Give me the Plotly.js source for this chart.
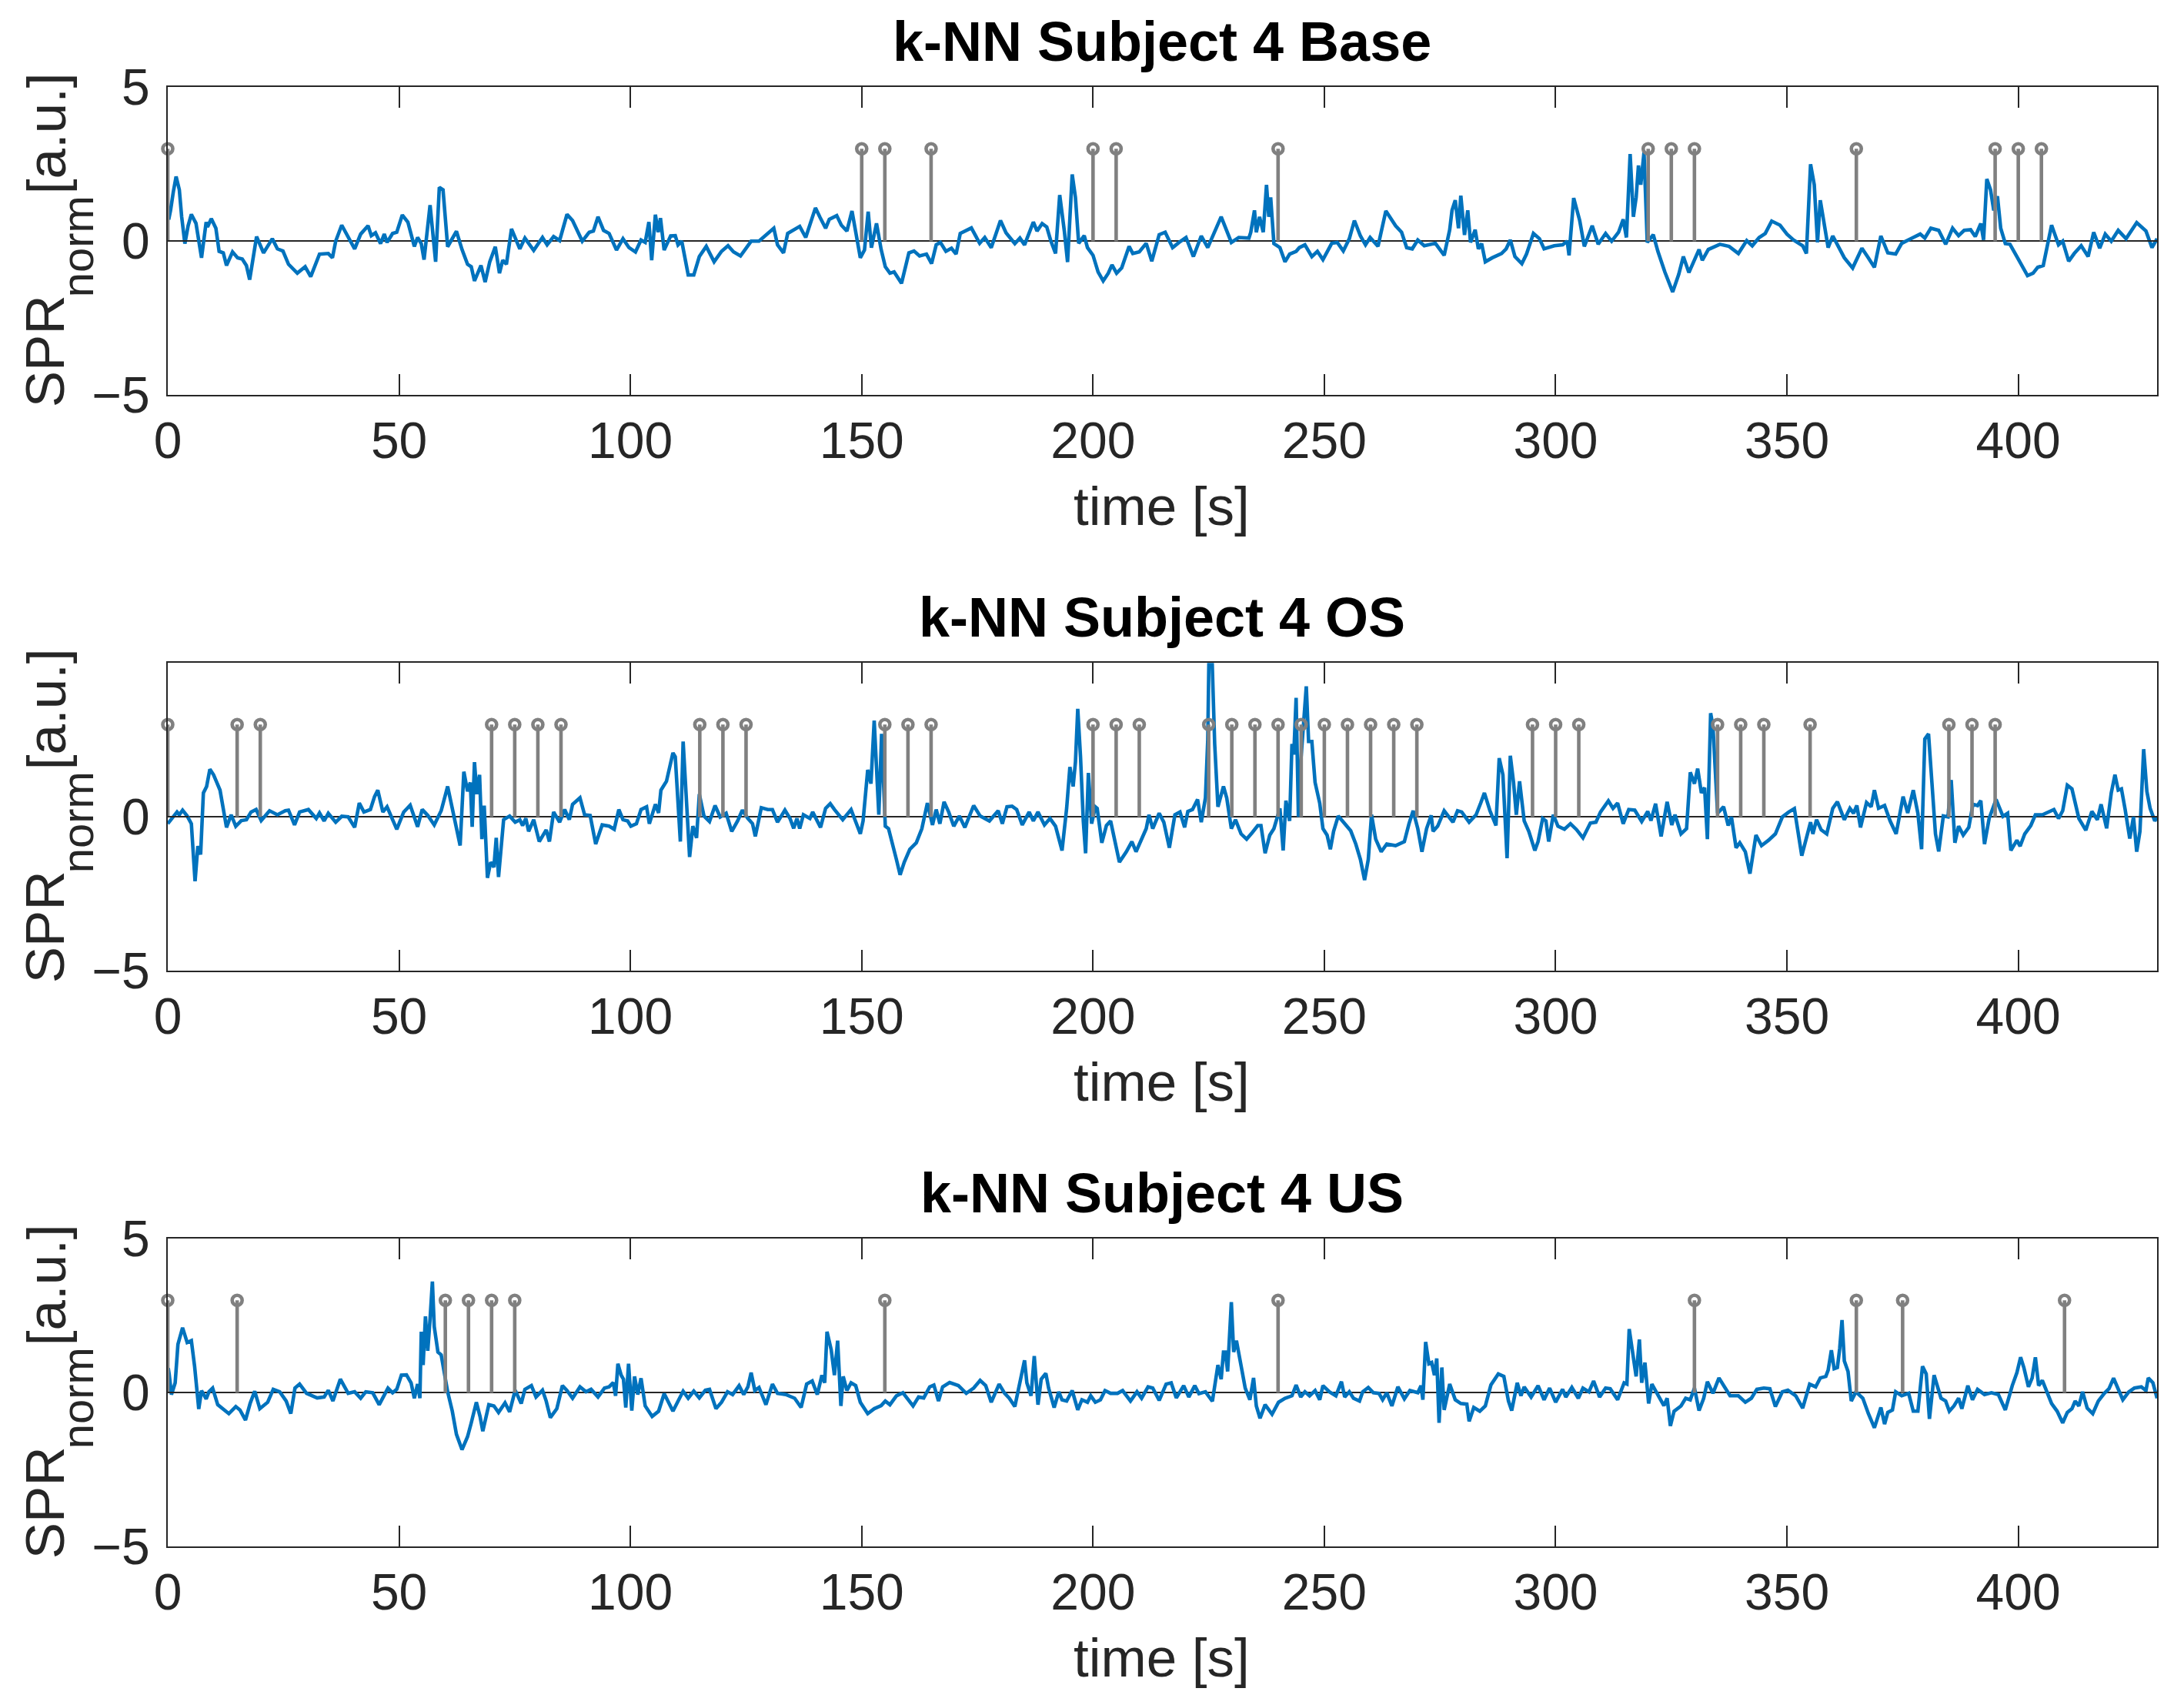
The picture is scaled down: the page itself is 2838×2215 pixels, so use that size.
<!DOCTYPE html>
<html>
<head>
<meta charset="utf-8">
<script src="https://cdn.plot.ly/plotly-3.0.1.min.js"></script>
<style>html,body{margin:0;padding:0;background:#fff;}#chart{width:2838px;height:2215px;}</style>
</head>
<body>
<div id="chart"></div>
<script>
// ---------------- DATA ----------------
const panelTitles = ["k-NN Subject 4 Base", "k-NN Subject 4 OS", "k-NN Subject 4 US"];
const xTickVals = [0, 50, 100, 150, 200, 250, 300, 350, 400];
const yTickVals1 = [-5, 0, 5];
const yTickVals2 = [-5, 0];
const yTickVals3 = [-5, 0, 5];
const stemHeight = 3;

// Base
const tBase = [0.2,0.6,1.2,1.8,2.5,3.0,3.7,4.4,5.1,6.1,7.3,8.3,8.6,9.4,10.4,11.1,12.0,12.7,14.0,15.1,16.1,17.0,17.7,19.2,20.7,22.6,23.7,24.9,26.1,28.0,29.7,30.9,32.8,34.7,35.6,36.3,37.6,39.0,40.4,41.7,43.3,44.0,44.9,46.0,46.8,47.4,48.6,49.5,50.7,51.9,53.3,54.0,54.8,55.4,56.7,57.9,58.7,59.5,60.5,62.4,63.6,64.8,65.6,66.3,67.7,68.6,69.6,70.8,71.7,72.4,73.2,74.3,76.1,77.2,79.1,81.0,82.0,83.4,84.7,86.3,87.5,89.6,91.1,92.0,93.0,94.2,95.4,97.0,98.4,99.7,101.1,102.3,103.2,104.0,104.6,105.4,106.0,106.5,107.3,108.7,109.7,110.3,111.1,112.5,113.7,114.9,116.4,118.1,119.7,121.1,122.3,123.8,125.0,126.1,127.8,129.3,130.0,131.0,131.8,133.1,134.0,135.5,136.6,137.9,140.0,141.0,142.2,143.0,144.6,145.6,146.8,147.9,148.9,149.7,150.6,151.4,152.1,153.2,154.2,155.1,156.1,157.0,158.6,160.2,161.3,162.5,164.0,165.1,166.1,167.0,168.2,169.4,170.4,171.3,173.7,175.5,176.6,178.0,180.0,181.2,183.1,184.2,185.2,187.1,187.9,189.0,190.0,190.9,191.9,192.8,193.8,194.5,195.5,196.2,196.9,198.1,198.8,200.0,201.1,202.2,203.3,204.1,205.1,206.2,207.8,208.6,210.0,211.5,212.7,214.3,215.6,217.2,218.6,220.1,221.7,223.4,224.8,226.1,227.7,229.9,231.5,233.7,234.1,234.9,235.3,236.0,236.8,237.5,238.0,238.4,239.1,240.4,241.5,242.5,243.9,244.6,245.8,247.3,248.5,249.7,251.6,252.8,254.1,255.4,256.5,257.8,258.9,259.9,261.6,263.3,265.4,266.7,267.8,269.0,270.2,271.6,274.0,275.9,277.1,277.6,278.3,279.0,279.5,280.3,281.0,281.6,282.6,283.3,284.0,284.8,286.3,288.3,289.3,290.2,291.2,292.7,293.7,295.2,296.5,297.5,299.7,301.5,302.5,302.9,303.9,305.2,306.2,307.9,309.2,310.8,312.1,313.6,314.6,315.3,316.1,316.8,317.4,317.9,318.4,319.1,319.8,321.1,322.1,323.6,325.3,326.6,327.6,328.8,331.0,331.7,333.0,335.5,337.5,339.5,341.3,342.5,344.0,345.3,346.7,348.5,350.0,351.4,353.4,354.2,355.1,355.9,356.6,357.2,358.0,358.9,359.9,360.9,362.4,364.2,366.2,367.4,368.9,370.3,371.8,373.5,374.8,377.3,378.8,379.8,381.1,382.8,384.3,385.8,387.1,388.3,389.7,390.7,391.9,392.5,393.2,394.0,394.7,395.5,396.2,397.2,398.2,399.7,401.0,402.0,403.2,404.2,405.4,406.2,407.2,408.7,409.6,410.9,412.1,413.6,415.1,416.3,417.6,418.8,420.1,421.6,423.3,425.6,427.6,428.9,430.0];
const vBase = [0.7,1.0,1.6,2.1,1.67,0.8,-0.08,0.5,0.87,0.58,-0.54,0.62,0.46,0.73,0.42,-0.33,-0.38,-0.79,-0.35,-0.54,-0.58,-0.79,-1.25,0.15,-0.38,0.08,-0.25,-0.32,-0.75,-1.04,-0.83,-1.15,-0.42,-0.4,-0.54,0,0.52,0.12,-0.25,0.23,0.5,0.18,0.27,-0.08,0.23,-0.04,0.25,0.29,0.85,0.62,-0.17,0.12,-0.08,-0.6,1.17,-0.67,1.75,1.67,-0.18,0.32,-0.27,-0.75,-0.83,-1.29,-0.79,-1.33,-0.67,-0.18,-1.04,-0.62,-0.75,0.4,-0.25,0.1,-0.3,0.12,-0.12,0.15,0.02,0.87,0.67,0,0.29,0.33,0.79,0.35,0.25,-0.29,0.08,-0.21,-0.35,0.04,-0.04,0.62,-0.62,0.86,0.29,0.75,-0.29,0.17,0.18,-0.12,0,-1.1,-1.1,-0.5,-0.17,-0.67,-0.33,-0.15,-0.35,-0.48,-0.21,0,0,0.21,0.27,0.42,-0.12,-0.38,0.25,0.37,0.48,0.12,1.08,0.77,0.42,0.71,0.83,0.52,0.33,0.98,0.17,-0.54,-0.29,0.96,-0.21,0.58,-0.27,-0.83,-1.04,-1.0,-1.37,-0.38,-0.32,-0.48,-0.42,-0.73,-0.12,-0.04,-0.33,-0.23,-0.42,0.25,0.43,-0.07,0.12,-0.21,0.67,0.27,-0.08,0.1,-0.12,0.62,0.33,0.57,0.46,0,-0.4,1.5,0.33,-0.68,2.17,1.42,-0.07,0.18,-0.21,-0.46,-1.0,-1.29,-1.04,-0.77,-1.04,-0.87,-0.17,-0.4,-0.35,-0.07,-0.65,0.21,0.29,-0.21,-0.04,0.12,-0.5,0.17,-0.21,0.21,0.79,-0.04,0.12,0.1,0.29,1.0,0.29,0.79,0.29,1.83,0.79,1.42,-0.08,-0.21,-0.67,-0.42,-0.33,-0.21,-0.12,-0.5,-0.33,-0.6,-0.07,-0.04,-0.32,0.08,0.67,0.17,-0.12,0.12,-0.17,0.98,0.5,0.29,-0.21,-0.25,0.04,-0.15,-0.07,-0.46,0.37,1.0,1.33,0.42,1.48,0.2,1.0,-0.04,0.37,-0.25,-0.08,-0.67,-0.54,-0.4,-0.25,0.04,-0.5,-0.73,-0.42,0.25,0.08,-0.25,-0.15,-0.12,0,-0.46,1.4,0.67,-0.17,0.5,-0.1,0.25,0,0.29,0.71,0.12,2.83,0.79,1.42,2.46,1.83,2.88,-0.04,0.21,-0.33,-1.0,-1.65,-1.08,-0.5,-1.02,-0.27,-0.62,-0.27,-0.1,-0.17,-0.4,0.02,-0.15,0.12,0.25,0.65,0.52,0.23,0.04,-0.15,-0.4,2.5,1.83,-0.04,1.33,0.54,-0.21,0.17,-0.12,-0.54,-0.87,-0.23,-0.5,-0.85,0.17,-0.38,-0.42,-0.07,0.12,0.23,0.1,0.42,0.35,-0.1,0.42,0.18,0.35,0.37,0.15,0.57,0.04,2.02,1.67,1.0,1.46,0.42,-0.08,-0.1,-0.5,-0.83,-1.12,-1.04,-0.85,-0.79,-0.17,0.52,-0.12,0,-0.65,-0.4,-0.15,-0.5,0.29,-0.23,0.23,0,0.35,0.08,0.6,0.33,-0.21,0.08];
const stemsBase = [0,150,155,165,200,205,240,320,325,330,365,395,400,405];

// OS
const tOS = [0.0,1.0,2.0,2.5,3.2,4.2,5.1,5.9,6.5,7.1,7.7,8.4,9.1,9.9,11.3,12.7,13.7,14.7,15.9,17.0,18.0,19.1,20.2,22.0,23.7,25.4,26.1,27.4,28.5,30.4,32.1,32.8,33.8,34.7,36.3,37.6,39.0,40.4,41.4,42.4,43.8,44.7,45.4,46.5,47.4,49.5,51.0,52.4,54.0,55.0,56.2,57.6,59.1,60.5,61.9,63.2,64.0,64.8,65.4,65.8,66.3,66.8,67.4,67.9,68.4,69.1,69.8,70.5,71.0,71.5,72.6,73.9,75.1,76.1,76.7,77.4,78.0,79.1,80.3,81.8,82.5,83.4,84.7,85.8,86.8,87.5,89.1,90.1,91.3,92.5,93.9,95.4,96.5,97.5,98.4,99.4,100.1,101.3,102.3,103.5,104.1,105.4,106.1,106.6,107.8,108.5,109.2,109.7,110.2,110.8,111.4,112.1,112.8,113.5,114.3,114.9,115.9,117.1,118.3,119.4,120.7,121.9,123.2,124.2,125.4,126.4,127.0,128.3,129.7,130.7,131.8,133.4,134.5,135.3,136.0,136.6,137.4,138.8,139.4,141.1,142.2,143.2,144.1,145.9,147.7,149.7,150.3,151.3,152.0,152.7,153.2,153.7,154.3,155.1,155.8,156.7,157.5,158.3,159.2,160.4,161.8,163.0,164.2,165.3,166.1,166.9,167.8,168.8,169.9,171.1,172.3,174.2,175.6,177.6,179.5,180.4,181.4,182.5,183.5,184.7,186.2,187.1,188.1,189.5,190.7,191.9,193.3,194.3,195.0,195.7,196.2,196.7,197.3,197.9,198.4,199.0,199.7,200.5,200.9,201.9,202.9,203.8,204.8,205.7,207.2,208.4,209.3,210.5,211.5,212.1,212.9,214.3,215.3,216.5,217.7,218.8,219.8,220.5,221.5,222.6,223.4,224.3,224.8,225.1,225.7,226.3,227.0,228.2,228.9,229.9,230.8,232.0,233.2,234.4,235.6,236.3,237.2,238.2,239.1,240.4,241.1,241.7,242.5,243.0,243.4,243.9,244.4,244.9,245.4,246.1,246.6,247.3,248.0,249.0,249.7,250.6,251.3,252.0,253.0,254.4,255.7,256.8,257.8,258.7,259.5,260.2,261.1,262.3,263.5,265.4,267.3,268.3,269.2,270.2,271.1,272.1,273.1,273.5,274.5,275.9,277.8,278.8,279.7,281.3,282.8,283.8,284.6,285.8,287.1,287.8,288.6,289.5,290.2,290.9,291.5,292.2,293.2,294.2,295.5,296.2,297.2,297.9,298.5,299.5,300.5,301.9,303.2,304.5,305.9,307.5,308.7,309.7,311.4,312.4,313.4,314.6,315.8,317.1,318.6,319.9,320.6,321.6,322.8,324.1,325.1,325.8,327.1,328.3,329.1,330.0,330.7,331.5,332.2,332.8,333.5,334.0,334.5,335.0,336.3,337.3,338.0,339.0,339.8,341.0,342.0,343.3,344.5,346.0,347.5,349.0,350.4,351.6,353.2,355.1,355.6,356.4,357.4,358.6,359.9,360.9,362.4,363.6,364.4,365.1,365.9,367.2,368.2,368.9,369.8,371.1,372.3,373.6,375.1,376.1,377.3,378.3,379.1,379.8,380.6,381.3,382.1,382.8,383.8,384.8,385.5,386.3,387.1,388.1,389.3,390.2,391.2,391.9,392.7,393.7,395.2,396.7,397.7,398.4,399.7,400.4,401.4,402.7,403.7,405.2,406.4,407.7,408.7,409.6,410.6,411.6,413.1,414.6,415.9,417.1,417.9,419.1,420.1,420.9,421.6,422.3,423.1,424.1,424.9,425.6,426.3,427.1,427.8,428.5,429.5,430.0];
const vOS = [-0.22,-0.05,0.16,0.07,0.22,0.03,-0.22,-2.09,-0.95,-1.22,0.78,0.99,1.55,1.37,0.87,-0.34,0.07,-0.3,-0.12,-0.09,0.16,0.24,-0.12,0.2,0.07,0.2,0.22,-0.26,0.16,0.24,-0.05,0.13,-0.13,0.12,-0.17,0.02,0,-0.34,0.45,0.16,0.24,0.66,0.87,0.16,0.33,-0.4,0.16,0.38,-0.32,0.24,0.05,-0.26,0.2,0.99,0.05,-0.93,1.47,0.83,1.12,-0.32,1.78,0.74,1.37,-0.72,0.37,-1.98,-1.47,-1.63,-0.68,-1.95,-0.09,0.03,-0.17,-0.09,-0.28,-0.05,-0.47,-0.09,-0.8,-0.42,-0.8,0.16,-0.17,0.24,-0.09,0.41,0.62,0.07,0.05,-0.88,-0.26,-0.3,-0.4,0.24,-0.09,-0.13,-0.3,-0.22,0.24,0.33,-0.22,0.41,0.13,0.87,1.16,1.62,2.08,1.95,0.66,-0.8,2.45,0.57,-1.3,-0.3,-0.68,0.74,0.03,-0.15,0.37,0,0.12,-0.47,-0.12,0.22,-0.05,-0.22,-0.63,0.3,0.24,0.24,-0.17,0.22,-0.05,-0.37,-0.05,-0.38,0.07,-0.05,0.16,-0.34,0.28,0.43,0.24,-0.09,0.24,-0.55,-0.13,1.53,1.08,3.13,1.78,0.07,2.7,-0.3,-0.38,-0.88,-1.38,-1.88,-1.47,-1.05,-0.84,-0.38,0.45,-0.26,0.24,-0.22,0.49,0.16,-0.3,0.03,-0.34,0.37,0.03,-0.13,0.2,-0.22,0.33,0.35,0.24,-0.26,0.16,-0.13,0.16,-0.26,-0.05,-0.3,-1.09,0.28,1.62,0.99,1.78,3.51,1.95,-0.13,-1.18,1.43,-0.22,0.33,0.28,-0.84,-0.28,-0.13,-0.88,-1.47,-1.13,-0.8,-1.13,-0.72,-0.38,0.07,-0.38,0.12,-0.17,-1.0,0.07,0.16,-0.34,0.18,0.24,0.57,-0.17,0.62,2.5,5.6,5.3,2.37,0.33,0.99,0.62,-0.38,-0.09,-0.55,-0.72,-0.51,-0.28,-0.28,-1.18,-0.59,-0.38,0.28,-1.09,0.53,-0.13,2.37,2.03,3.87,0,1.78,2.78,4.24,2.45,2.45,1.12,0.45,-0.38,-0.59,-1.05,-0.47,0.03,-0.22,-0.45,-0.88,-1.38,-2.05,-1.38,0.07,-0.72,-1.13,-0.88,-0.93,-0.8,-0.22,0.2,-0.38,-1.13,-0.38,0.05,-0.47,-0.3,0.2,-0.17,0.2,0.16,-0.17,0.07,0.45,0.78,0.2,-0.28,1.91,1.37,-1.34,1.99,1.12,0.07,1.16,-0.13,-0.47,-1.09,-0.8,-0.05,-0.13,-0.8,0.07,-0.3,-0.4,-0.22,-0.41,-0.68,-0.2,-0.17,0.16,0.52,0.28,0.45,-0.22,0.24,0.22,-0.15,0.18,-0.12,0.43,-0.63,0.49,-0.26,0.07,-0.55,-0.38,1.45,1.08,1.57,0.78,0.95,-0.72,3.37,2.95,1.53,0.12,0.33,-0.28,0,-1.0,-0.84,-1.13,-1.84,-0.59,-0.93,-0.76,-0.55,0,0.16,0.27,-1.26,-0.17,-0.55,-0.09,-0.42,-0.55,0.28,0.49,-0.09,0.28,0.12,0.37,-0.34,0.47,0.33,0.87,0.28,0.37,-0.13,-0.55,0.66,0.13,0.87,0.12,-1.05,2.53,2.7,1.28,-0.55,-1.12,0.03,0,1.2,-0.84,-0.3,-0.59,-0.34,0.41,0.37,0.53,-0.88,-0.05,0.57,0.02,0.12,-1.09,-0.76,-0.95,-0.55,-0.28,0.07,0.07,0.16,0.24,-0.05,0.2,1.03,0.91,-0.05,-0.43,0.18,-0.09,0.41,-0.37,0.78,1.37,0.87,0.91,0.24,-0.7,0,-1.13,-0.47,2.2,0.83,0.28,-0.13,0];
const stemsOS = [0,15,20,70,75,80,85,115,120,125,155,160,165,200,205,210,225,230,235,240,245,250,255,260,265,270,295,300,305,335,340,345,355,385,390,395];

// US
const tUS = [0.1,0.3,0.8,1.6,2.2,3.2,4.2,5.1,5.8,6.7,7.3,8.3,8.9,9.7,10.8,12.1,13.2,14.7,15.6,16.8,17.8,18.8,19.9,21.6,22.8,24.2,25.6,26.6,27.5,28.5,30.0,32.3,33.8,34.7,35.7,37.3,39.0,40.4,41.7,42.8,44.3,45.7,47.6,48.6,49.5,50.5,51.6,52.6,53.3,54.0,54.5,54.8,55.2,55.7,56.2,56.7,57.2,57.6,58.4,59.1,59.8,60.5,61.5,62.4,63.6,64.8,65.6,66.7,67.5,68.1,69.4,70.5,71.5,72.9,73.9,75.1,76.4,77.2,78.6,79.6,81.0,81.8,82.7,84.1,85.3,86.3,87.5,89.1,90.4,91.5,93.0,94.4,95.4,96.3,96.8,97.3,98.0,98.5,99.0,99.6,100.3,100.9,101.6,102.3,103.2,104.7,106.1,107.3,109.2,111.4,112.5,113.7,114.9,116.2,117.1,118.5,119.7,121.0,122.1,123.5,124.5,125.4,126.1,126.9,127.8,129.3,130.7,131.8,133.6,135.5,136.9,138.1,139.3,140.4,141.4,142.0,142.5,143.4,144.1,144.8,145.5,146.0,146.8,147.7,148.7,149.7,151.3,152.7,154.2,155.1,156.1,157.5,158.9,161.1,162.3,163.4,164.7,165.6,166.6,167.5,169.0,170.9,172.6,174.2,175.6,176.8,178.0,179.7,180.9,181.9,183.1,184.2,185.2,185.7,186.6,187.3,188.1,188.8,189.8,190.4,191.6,192.6,193.3,194.3,195.5,196.7,197.6,198.8,199.5,200.5,201.6,202.6,203.8,205.3,206.4,208.1,209.5,210.5,211.9,212.9,214.3,215.8,216.9,218.0,219.6,220.7,222.0,222.9,224.3,225.8,226.5,227.0,227.7,228.2,228.6,229.1,229.9,230.4,231.0,231.5,232.2,232.9,233.9,234.7,235.3,236.1,237.2,238.7,240.1,241.5,243.0,243.9,244.9,245.8,246.8,248.0,249.0,249.7,251.1,252.5,253.7,254.4,255.4,256.3,257.6,258.3,259.5,260.6,261.8,262.6,263.5,264.6,265.9,267.3,268.5,270.2,270.9,271.3,271.9,272.6,273.2,273.8,274.3,274.8,275.4,275.9,277.1,278.3,279.5,280.8,281.3,282.3,283.6,284.8,286.0,287.6,288.8,289.8,290.5,291.7,292.5,293.2,294.7,296.2,297.5,298.7,300.0,301.5,302.2,303.5,304.9,305.9,307.2,308.2,309.5,310.8,311.8,313.4,314.8,315.4,315.9,316.8,317.4,318.1,318.6,319.3,320.1,320.8,322.1,323.4,324.1,324.8,325.6,327.1,328.1,329.1,330.0,331.0,332.0,332.8,334.0,335.3,336.5,337.7,339.5,341.0,342.3,343.5,345.0,346.3,347.5,349.0,350.2,351.9,353.4,354.9,356.2,357.2,358.4,358.9,359.6,360.2,360.9,361.4,361.9,362.4,363.2,363.9,364.9,366.4,367.6,368.9,370.3,371.1,371.8,372.8,373.5,374.8,376.3,377.3,378.3,379.3,380.1,380.8,381.8,382.5,383.3,384.3,385.1,386.1,387.1,387.8,389.1,390.1,391.2,392.7,394.2,395.7,397.2,398.7,399.7,400.5,401.2,402.2,403.0,403.7,404.4,405.2,406.2,407.2,408.4,409.6,410.6,411.6,412.3,413.1,413.9,414.9,416.1,417.3,418.6,419.6,420.6,421.6,422.6,423.9,425.1,426.6,427.6,428.1,429.1,430.0];
const vUS = [0.8,0.61,-0.06,0.32,1.57,2.11,1.63,1.69,0.86,-0.53,0.07,-0.2,0.03,0.15,-0.39,-0.56,-0.68,-0.45,-0.56,-0.89,-0.35,0.05,-0.52,-0.31,0.11,0.03,-0.27,-0.68,0.15,0.28,-0.02,-0.17,-0.14,0.08,-0.27,0.44,-0.02,0.03,-0.18,0.03,0,-0.39,0.15,0,0.11,0.57,0.58,0.32,-0.18,0.28,-0.18,1.98,0.9,2.48,1.36,2.4,3.61,2.15,1.32,1.23,0.57,0.03,-0.6,-1.35,-1.85,-1.43,-0.98,-0.31,-0.77,-1.25,-0.39,-0.43,-0.64,-0.33,-0.62,0.08,-0.35,0.11,0.23,-0.14,0.08,-0.27,-0.81,-0.52,0.23,0.07,-0.18,0.19,0.03,0.11,-0.14,0.15,0.19,0.33,-0.1,0.94,0.57,0.44,-0.48,0.94,-0.58,0.53,-0.06,0.47,-0.43,-0.77,-0.6,-0.03,-0.6,0.05,-0.18,0.05,-0.17,0.08,0.11,-0.52,-0.31,0.03,-0.06,0.23,-0.06,0.19,0.65,0.07,0.17,-0.39,0.28,-0.02,-0.06,-0.18,-0.48,0.28,0.38,-0.06,0.57,0.32,1.98,1.4,0.57,1.69,-0.43,0.53,0.07,0.32,0.23,-0.31,-0.68,-0.52,-0.42,-0.27,-0.39,-0.1,0,-0.43,-0.14,-0.17,0.19,0.25,-0.27,0.19,0.33,0.23,-0.02,0.15,0.4,0.23,-0.31,0.28,-0.02,-0.18,-0.45,0.32,1.05,0.32,-0.1,1.19,-0.39,0.44,0.63,0.15,-0.48,0.03,-0.23,-0.27,0.07,-0.56,-0.23,-0.31,-0.1,-0.31,-0.23,0.07,-0.02,-0.02,0.07,-0.27,0.03,-0.18,0.19,0.15,-0.25,0.28,0.32,-0.17,0.23,-0.14,0.23,-0.03,0.03,-0.28,0.48,0.9,0.44,1.32,1.32,0.69,2.94,1.32,1.69,1.28,0.57,0.15,-0.23,0.48,-0.43,-0.83,-0.39,-0.7,-0.31,-0.18,-0.1,0.25,-0.14,0.03,-0.1,0.07,-0.23,0.23,0.03,-0.1,0.36,-0.14,0.03,-0.18,-0.27,0.03,0.17,0,-0.02,-0.23,0,-0.43,0.19,-0.2,0.07,0,0.23,-0.23,1.65,0.94,0.98,0.57,1.11,-0.98,0.82,-0.56,0.28,-0.23,-0.35,-0.37,-0.93,-0.48,-0.6,-0.43,0.25,0.61,0.53,-0.27,-0.58,0.32,-0.1,0.19,-0.14,0.23,-0.23,0.15,-0.31,0.11,-0.14,0.17,-0.18,0.15,0.03,0.38,-0.14,0.15,0.13,-0.23,0.32,0.28,2.07,1.23,0.53,1.73,0.32,0.98,-0.35,0.28,-0.1,-0.42,-0.18,-1.08,-0.6,-0.43,-0.18,-0.23,0.15,-0.58,-0.18,0.36,-0.02,0.48,0.19,-0.1,-0.1,-0.31,-0.18,0.11,0.15,0.13,-0.45,0.03,0.08,-0.1,-0.5,0.28,0.19,0.48,0.53,0.73,1.38,0.78,0.82,1.44,2.36,1.03,0.69,-0.27,0.03,-0.18,-0.68,-1.14,-0.48,-1.02,-0.64,-0.56,0.03,-0.1,-0.02,-0.6,-0.6,0.86,0.61,-0.85,0.57,0.17,-0.18,-0.27,-0.6,-0.43,-0.18,-0.52,0.23,-0.23,0.11,-0.06,0,-0.06,-0.56,0.23,0.65,1.15,0.82,0.19,0.48,1.15,0.23,0.4,0.03,-0.35,-0.6,-0.98,-0.64,-0.52,-0.27,-0.43,0.03,-0.5,-0.68,-0.27,-0.02,0.13,0.47,0.15,-0.23,0.03,0.15,0.19,0.07,0.48,0.32,-0.18];
const stemsUS = [0,15,60,65,70,75,155,240,330,365,375,410];

// ---------------- FIGURE ----------------
const W = 2838, H = 2215;
const FONT = "Liberation Sans, Arial, Helvetica, sans-serif";
const AX = "#262626";
const xDom = [218 / W, 2803 / W];
// plot areas (top, bottom) in pixels
const boxes = [[113.3, 513.3], [861.3, 1261.3], [1609.3, 2009.3]];
const yTicksAll = [yTickVals1, yTickVals2, yTickVals3];
const series = [[tBase, vBase, stemsBase], [tOS, vOS, stemsOS], [tUS, vUS, stemsUS]];

const traces = [];
const layout = {
  width: W, height: H,
  margin: {l: 0, r: 0, t: 0, b: 0},
  paper_bgcolor: "#fff", plot_bgcolor: "#fff",
  showlegend: false,
  font: {family: FONT, color: AX},
  annotations: []
};

function stemXY(stems) {
  const x = [], y = [];
  stems.forEach(s => { x.push(s, s, null); y.push(0, stemHeight, null); });
  return {x, y};
}

series.forEach((s, i) => {
  const n = i === 0 ? "" : String(i + 1);
  const xa = "x" + n, ya = "y" + n;
  traces.push({type: "scatter", mode: "lines", x: s[0], y: s[1], xaxis: xa, yaxis: ya,
    line: {color: "#0072BD", width: 4.6, shape: "linear"}, hoverinfo: "skip"});
  const st = stemXY(s[2]);
  traces.push({type: "scatter", mode: "lines", x: st.x, y: st.y, xaxis: xa, yaxis: ya,
    line: {color: "#808080", width: 4.6}, hoverinfo: "skip"});
  traces.push({type: "scatter", mode: "markers", x: s[2], y: s[2].map(() => stemHeight), xaxis: xa, yaxis: ya,
    marker: {symbol: "circle-open", size: 13, color: "#808080", line: {width: 4.6, color: "#808080"}}, hoverinfo: "skip", cliponaxis: false});

  const top = boxes[i][0], bot = boxes[i][1];
  const yDom = [1 - bot / H, 1 - top / H];
  layout["xaxis" + n] = {
    domain: xDom, anchor: ya, range: [0, 430], tickvals: xTickVals, ticktext: xTickVals.map(String),
    ticks: "inside", ticklen: 27, tickwidth: 2, tickcolor: AX, mirror: "ticks",
    showline: true, linecolor: AX, linewidth: 2, showgrid: false, zeroline: false,
    tickfont: {family: FONT, size: 66, color: AX}, ticklabelstandoff: 0
  };
  layout["yaxis" + n] = {
    domain: yDom, anchor: xa, range: [-5, 5], tickvals: yTicksAll[i],
    ticks: "inside", ticklen: 27, tickwidth: 2, tickcolor: AX, mirror: "ticks",
    showline: true, linecolor: AX, linewidth: 2, showgrid: false,
    zeroline: true, zerolinecolor: AX, zerolinewidth: 2,
    tickfont: {family: FONT, size: 66, color: AX}, ticklabelstandoff: 8
  };
  const zeroY = (top + bot) / 2;
  // title
  layout.annotations.push({xref: "paper", yref: "paper", x: 1510 / W, y: 1 - (top - 59) / H,
    xanchor: "center", yanchor: "middle", showarrow: false,
    text: "<b>" + panelTitles[i] + "</b>", font: {family: FONT, size: 72, color: "#000"}});
  // x label
  layout.annotations.push({xref: "paper", yref: "paper", x: 1510 / W, y: 1 - (bot + 144) / H,
    xanchor: "center", yanchor: "middle", showarrow: false,
    text: "time [s]", font: {family: FONT, size: 71, color: AX}});
  // y label pieces
  layout.annotations.push({xref: "paper", yref: "paper", x: 58 / W, y: 1 - (zeroY + 143) / H,
    xanchor: "center", yanchor: "middle", showarrow: false, textangle: -90,
    text: "SPR", font: {family: FONT, size: 71, color: AX}});
  layout.annotations.push({xref: "paper", yref: "paper", x: 100 / W, y: 1 - (zeroY + 7) / H,
    xanchor: "center", yanchor: "middle", showarrow: false, textangle: -90,
    text: "norm", font: {family: FONT, size: 58, color: AX}});
  layout.annotations.push({xref: "paper", yref: "paper", x: 60 / W, y: 1 - (zeroY - 140) / H,
    xanchor: "center", yanchor: "middle", showarrow: false, textangle: -90,
    text: "[a.u.]", font: {family: FONT, size: 71, color: AX}});
});

Plotly.newPlot("chart", traces, layout, {staticPlot: true, displayModeBar: false});
</script>
</body>
</html>
